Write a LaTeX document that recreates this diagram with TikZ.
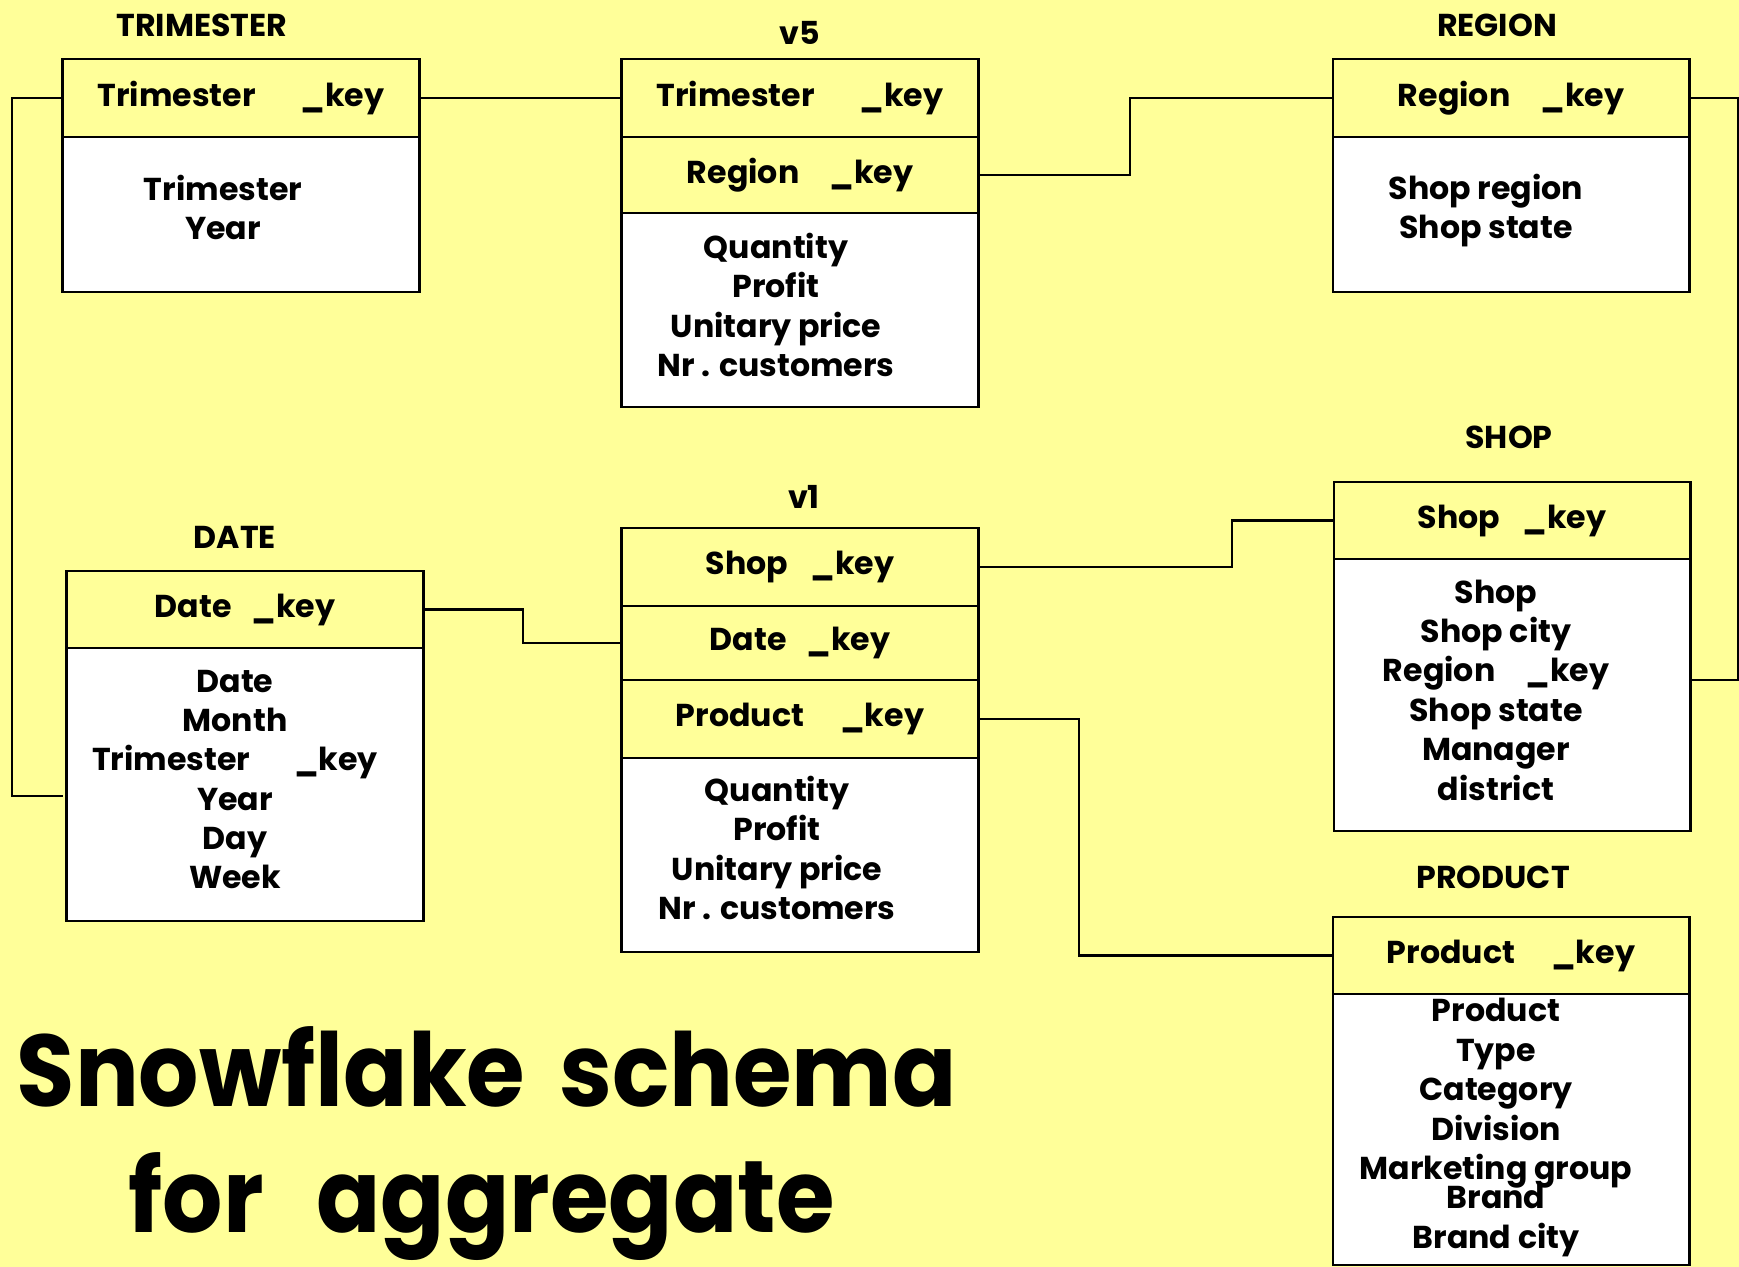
\documentclass[tikz,border=0pt]{standalone}
\usepackage{graphicx}
\usepackage{fontspec}
\setmainfont{Poppins}
\definecolor{notebg}{HTML}{FFFF99}
\newcommand\keyfield[2]{#1\hspace{#2}\_key}

\begin{document}
\begin{tikzpicture}[%
        x = 0.01cm,
        y = -0.01cm,
        every node/.style = {%
            font = \bfseries\fontsize{9}{11.2}\selectfont
        },
        keyrow/.style = {
            draw = black,
            line width = 0.8pt,
            fill = notebg,
            minimum width = 3.56cm,
            inner sep = 0pt,
            outer sep = 0pt
        },
        attrbox/.style = {
            keyrow,
            fill = white
        },
        attrtext/.style = {
            align = center,
            inner sep = 0pt
        },
        tabletitle/.style = {
            inner sep = 0pt
        },
        link/.style = {
            draw = black,
            line width = 0.6pt
        },
        caption/.style = {
            font = \bfseries\fontsize{29}{35}\selectfont,
            anchor = base west,
            inner sep = 0pt
        }
    ]

        % Page background.
        \fill[notebg] (0,0) rectangle (1739,1267);
        \useasboundingbox (0,0) rectangle (1739,1267);

        % Dimension table TRIMESTER.
        \node[tabletitle] (trititle) at (202,25) {TRIMESTER};
        \node[keyrow, minimum height = 0.78cm] (trihead) at (241,98) {\keyfield{Trimester}{4.5mm}};
        \node[attrbox, minimum height = 1.55cm] (tribody) at (241,214.5) {};
        \node[attrtext] (tritext) at ([shift = {(-18,-7)}]tribody) {Trimester\\Year};

        % Aggregate table v5.
        \node[tabletitle] (vfivetitle) at (800,33) {v5};
        \node[keyrow, minimum height = 0.78cm] (vfivetri) at (800,98) {\keyfield{Trimester}{4.5mm}};
        \node[keyrow, minimum height = 0.76cm] (vfivereg) at (800,175) {\keyfield{Region}{3mm}};
        \node[attrbox, minimum height = 1.94cm] (vfivebody) at (800,310) {};
        \node[attrtext] (vfivetext) at ([shift = {(-24,-5)}]vfivebody)
            {Quantity\\Profit\\Unitary price\\Nr . customers};

        % Dimension table REGION.
        \node[tabletitle] (regtitle) at (1497,25) {REGION};
        \node[keyrow, minimum height = 0.78cm] (reghead) at (1511,98) {\keyfield{Region}{3mm}};
        \node[attrbox, minimum height = 1.55cm] (regbody) at (1511,214.5) {};
        \node[attrtext] (regtext) at ([shift = {(-25,-4)}]regbody) {Shop region\\Shop state};

        % Dimension table SHOP.
        \node[tabletitle] (shoptitle) at (1509,437) {SHOP};
        \node[keyrow, minimum height = 0.77cm] (shophead) at (1512,520.5) {\keyfield{Shop}{2.2mm}};
        \node[attrbox, minimum height = 2.72cm] (shopbody) at (1512,695) {};
        \node[attrtext] (shoptext) at ([shift = {(-16,-5)}]shopbody)
            {Shop\\Shop city\\\keyfield{Region}{3mm}\\Shop state\\Manager\\district};

        % Dimension table PRODUCT.
        \node[tabletitle] (prodtitle) at (1493,877) {PRODUCT};
        \node[keyrow, minimum height = 0.77cm] (prodhead) at (1511,955.5) {\keyfield{Product}{3.6mm}};
        \node[attrbox, minimum height = 2.71cm] (prodbody) at (1511,1129.5) {};
        \node[attrtext] (prodtext) at ([shift = {(-15,-2)}]prodbody)
            {Product\\Type\\Category\\Division\\Marketing group\\[-2.9pt]Brand\\Brand city};

        % Dimension table DATE.
        \node[tabletitle] (datetitle) at (235,537) {DATE};
        \node[keyrow, minimum height = 0.77cm] (datehead) at (245,609.5) {\keyfield{Date}{2mm}};
        \node[attrbox, minimum height = 2.73cm] (datebody) at (245,784.5) {};
        \node[attrtext] (datetext) at ([shift = {(-10,-5)}]datebody)
            {Date\\Month\\\keyfield{Trimester}{4.4mm}\\Year\\Day\\Week};

        % Aggregate table v1.
        \node[tabletitle] (vonetitle) at (804,497) {v1};
        \node[keyrow, minimum height = 0.78cm] (voneshop) at (800,567) {\keyfield{Shop}{2.2mm}};
        \node[keyrow, minimum height = 0.74cm] (vonedate) at (800,643) {\keyfield{Date}{2mm}};
        \node[keyrow, minimum height = 0.78cm] (voneprod) at (800,719) {\keyfield{Product}{3.6mm}};
        \node[attrbox, minimum height = 1.94cm] (vonebody) at (800,855) {};
        \node[attrtext] (vonetext) at ([shift = {(-23,-7)}]vonebody)
            {Quantity\\Profit\\Unitary price\\Nr . customers};

        % Ends of links that meet a row inside a body.
        \coordinate (datetrikey) at (63,796);
        \coordinate (shopregkey) at (1691,680);

        % Key links.
        \draw[link] (trihead.east) -- (vfivetri.west);
        \draw[link] (vfivereg.east) -- ++(152,0) |- (reghead.west);
        \draw[link] (trihead.west) -- ++(-51,0) |- (datetrikey);
        \draw[link] (reghead.east) -- ++(49,0) |- (shopregkey);
        \draw[link] (datehead.east) -- ++(100,0) |- (vonedate.west);
        \draw[link] (voneshop.east) -- ++(254,0) |- (shophead.west);
        \draw[link] (voneprod.east) -- ++(101,0) |- (prodhead.west);

        % Big caption.
        \node[caption] (capone) at (16,1106) {\scalebox{0.93}[1]{Snowflake\hspace{0.15cm} schema}};
        \node[caption] (captwo) at (128,1232) {\scalebox{0.93}[1]{for\hspace{0.35cm} aggregate}};
    \end{tikzpicture}
\end{document}
